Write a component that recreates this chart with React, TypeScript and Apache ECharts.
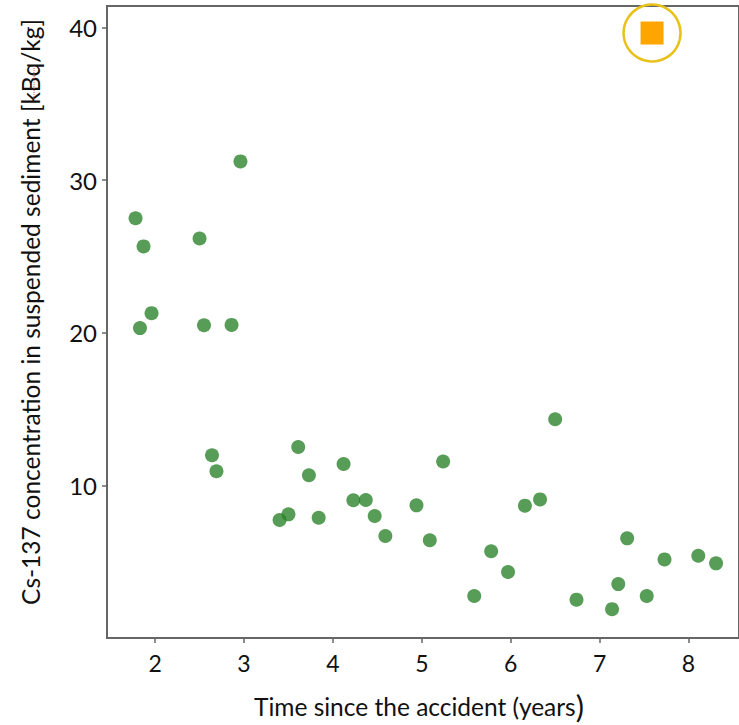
import React, { useEffect, useRef } from "react";
import * as echarts from "echarts";

const timeYears = [
  1.78, 1.87, 1.83, 1.96, 2.5, 2.55, 2.86, 2.96, 2.64, 2.69,
  3.4, 3.5, 3.61, 3.73, 3.84, 4.12, 4.23, 4.37, 4.47, 4.59,
  4.94, 5.09, 5.24, 5.59, 5.78, 5.97, 6.16, 6.33, 6.5, 6.74,
  7.14, 7.21, 7.31, 7.53, 7.73, 8.11, 8.31,
];
const csConc = [
  27.5, 25.65, 20.3, 21.28, 26.17, 20.49, 20.51, 31.22, 11.97, 10.92,
  7.73, 8.1, 12.51, 10.66, 7.88, 11.4, 9.02, 9.04, 7.99, 6.68,
  8.69, 6.4, 11.56, 2.75, 5.68, 4.32, 8.67, 9.08, 14.33, 2.51,
  1.89, 3.53, 6.53, 2.75, 5.15, 5.39, 4.89,
];
const highlightX = [7.59];
const highlightY = [39.63];
const xTicks = [2, 3, 4, 5, 6, 7, 8];
const yTicks = [10, 20, 30, 40];
const xName = "Time since the accident (years";
const yName = "Cs-137 concentration in suspended sediment [kBq/kg]";

const FONT = "Lato, 'Open Sans', sans-serif";

export default function App() {
  const ref = useRef<HTMLDivElement>(null);
  useEffect(() => {
    if (!ref.current) return;
    const chart = echarts.init(ref.current, null, { renderer: "svg" });
    const pts = timeYears.map((x, i) => [x, csConc[i]]);
    const hl = highlightX.map((x, i) => [x, highlightY[i]]);
    chart.setOption({
      animation: false,
      backgroundColor: "#ffffff",
      grid: {
        left: 107,
        right: -3,
        top: 6,
        bottom: 87,
        show: true,
        borderColor: "#666666",
        borderWidth: 2,
        backgroundColor: "transparent",
      },
      xAxis: {
        type: "value",
        min: 1.459,
        max: 8.568,
        splitLine: { show: false },
        axisLine: { show: true, lineStyle: { color: "#666666", width: 2 } },
        axisTick: {
          show: true,
          length: 5,
          customValues: xTicks,
          lineStyle: { color: "#666666", width: 1.5 },
        },
        axisLabel: {
          customValues: xTicks,
          fontFamily: FONT,
          fontSize: 23,
          color: "#111111",
          margin: 13,
        },
      },
      yAxis: {
        type: "value",
        min: 0,
        max: 41.4,
        splitLine: { show: false },
        axisLine: { show: true, lineStyle: { color: "#666666", width: 2 } },
        axisTick: {
          show: true,
          length: 5,
          customValues: yTicks,
          lineStyle: { color: "#666666", width: 1.5 },
        },
        axisLabel: {
          customValues: yTicks,
          fontFamily: FONT,
          fontSize: 24,
          color: "#111111",
          margin: 10,
        },
      },
      series: [
        {
          type: "scatter",
          data: pts,
          symbol: "circle",
          symbolSize: 14,
          itemStyle: { color: "rgba(40,130,40,0.78)", opacity: 1 },
        },
        {
          type: "scatter",
          data: hl,
          symbol: "circle",
          symbolSize: 57,
          itemStyle: {
            color: "rgba(255,255,255,0)",
            borderColor: "#e8c11a",
            borderWidth: 2.5,
            opacity: 1,
          },
        },
        {
          type: "scatter",
          data: hl,
          symbol: "rect",
          symbolSize: 23,
          itemStyle: { color: "#ffa500", opacity: 1 },
        },
      ],
      graphic: [
        {
          type: "text",
          x: 30,
          y: 312,
          rotation: Math.PI / 2,
          style: {
            text: yName,
            fontFamily: FONT,
            fontSize: 24.5,
            fill: "#111111",
            textAlign: "center",
            textVerticalAlign: "middle",
          },
        },
        {
          type: "text",
          x: 419,
          y: 706,
          style: {
            text: "{a|" + xName + "}{b|)}",
            textAlign: "center",
            textVerticalAlign: "middle",
            rich: {
              a: { fontFamily: FONT, fontSize: 24.5, fill: "#111111", color: "#111111" },
              b: { fontFamily: FONT, fontSize: 31, fill: "#111111", color: "#111111" },
            },
          },
        },
        {
          type: "line",
          shape: { x1: 34, y1: 66, x2: 34, y2: 100 },
          style: { stroke: "#e05050", lineWidth: 1, lineDash: [1, 1] },
        },
      ],
    });
    return () => chart.dispose();
  }, []);
  return (
    <div
      ref={ref}
      style={{ position: "fixed", left: 0, top: 0, width: 739, height: 725 }}
    />
  );
}
